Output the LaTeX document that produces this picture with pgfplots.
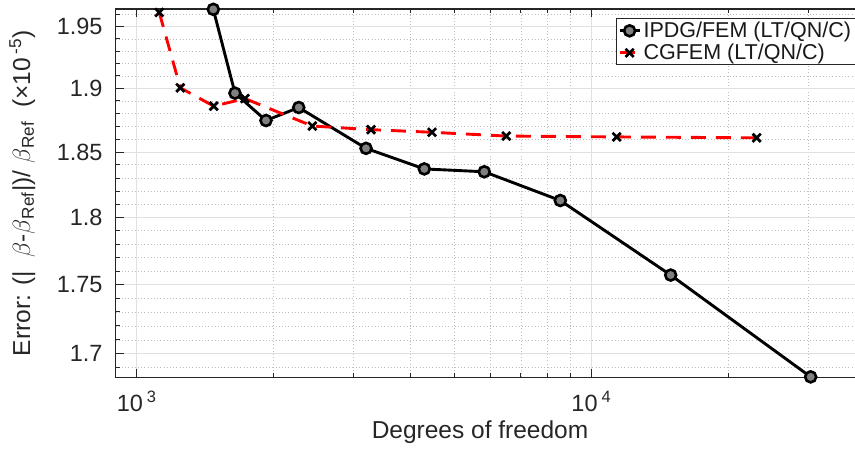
\documentclass[border=0pt]{standalone}
\usepackage{fontspec}
\setmainfont{Liberation Sans}
\usepackage{pgfplots}
\pgfplotsset{compat=1.18}

\definecolor{axgray}{gray}{0.15}
\definecolor{mgrid}{gray}{0.88}
\definecolor{mingrid}{gray}{0.74}
\definecolor{mfill}{gray}{0.5}

\pgfplotstableread{
dof err
1474 1.9640
1645 1.8963
1925 1.8747
2272 1.8847
3195 1.8528
4292 1.8368
5815 1.8348
8547 1.8129
14950 1.7571
30380 1.6836
}\ipdg

\pgfplotstableread{
dof err
1121 1.9615
1247 1.9006
1477 1.8860
1730 1.8921
2434 1.8702
3277 1.8676
4462 1.8655
6502 1.8624
11373 1.8619
23110 1.8611
}\cgfem

\begin{document}
\begin{tikzpicture}
\begin{axis}[
  at={(115.5pt,74.7pt)}, anchor=south west,
  scale only axis, width=750.5pt, height=368.3pt,
  xmode=log, ymode=log,
  xmin=898.2, xmax=40210, ymin=1.6834, ymax=1.9642,
  xtick={1000,10000},
  xticklabels={10\,\textsuperscript{3},10\,\textsuperscript{4}},
  minor xtick={2000,3000,4000,5000,6000,7000,8000,9000,20000,30000},
  ytick={1.7,1.75,1.8,1.85,1.9,1.95},
  yticklabels={1.7,1.75,1.8,1.85,1.9,1.95},
  minor ytick={1.69,1.71,1.72,1.73,1.74,1.76,1.77,1.78,1.79,1.81,1.82,1.83,1.84,1.86,1.87,1.88,1.89,1.91,1.92,1.93,1.94,1.96},
  grid=both,
  major grid style={mgrid, line width=0.9pt},
  minor grid style={mingrid, line width=0.7pt, dash pattern=on 0.8pt off 2.4pt},
  tick align=inside,
  major tick length=8.5pt, minor tick length=4.5pt,
  tick style={axgray, line width=1pt},
  axis line style={axgray, line width=1.2pt},
  xticklabel style={font=\fontsize{23.5}{27}\selectfont, text=axgray, anchor=north, inner sep=0pt, yshift=-14pt},
  yticklabel style={font=\fontsize{23.5}{27}\selectfont, text=axgray, anchor=east, inner sep=0pt, xshift=-12.8pt},
  xlabel={Degrees of freedom},
  xlabel style={at={(axis description cs:0.4857,-0.1187)}, anchor=north, inner sep=0pt, font=\fontsize{24.5}{28}\selectfont, text=axgray},
  ylabel={Error: (|\ \ $\beta$-$\beta$\textsubscript{Ref}|)/ $\beta$\textsubscript{Ref} \ (×10\,\textsuperscript{-5})},
  ylabel style={at={(axis description cs:-0.1419,0.5)}, anchor=north, inner sep=0pt, font=\fontsize{24.5}{28}\selectfont, text=axgray},
  clip=false,
  legend cell align=left,
  legend style={at={(axis description cs:0.98664,0.97475)}, anchor=north east,
    draw=axgray, line width=1pt, fill=white,
    font=\fontsize{21.5}{24}\selectfont, text=black!90,
    inner xsep=2pt, inner ysep=1pt, nodes={inner sep=2.5pt}},
  legend image code/.code={\draw[mark repeat=2,mark phase=2,#1] plot coordinates {(0pt,0pt) (10pt,0pt) (20pt,0pt)};},
]
\addplot[black, line width=2.9pt, mark=*, mark size=5.5pt,
  mark options={fill=mfill, draw=black, line width=2.6pt}] table[x=dof,y=err] {\ipdg};
\addlegendentry{IPDG/FEM (LT/QN/C)}
\addplot[red, line width=2.9pt, dash pattern=on 15pt off 10pt, mark=x, mark size=5.8pt,
  mark options={black, solid, line width=2.7pt}] table[x=dof,y=err] {\cgfem};
\addlegendentry{CGFEM (LT/QN/C)}
\end{axis}
\pgfresetboundingbox
\path[use as bounding box] (0,0) rectangle (855pt,452pt);
\end{tikzpicture}
\end{document}
